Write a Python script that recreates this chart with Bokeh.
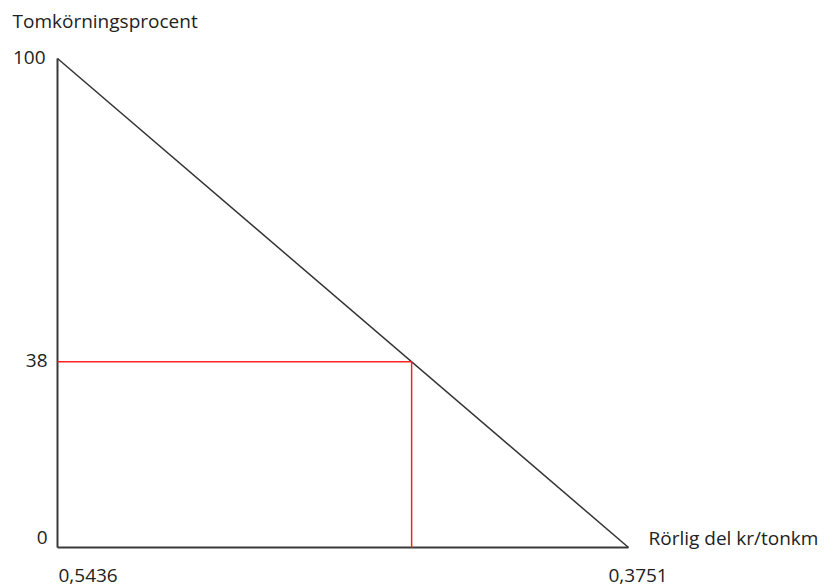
from bokeh.plotting import figure
from bokeh.models import Range1d, Label
from bokeh.embed import file_html
from bokeh.resources import INLINE

# --- data ---
x_start = 0.5436          # kr/tonkm at 100 % empty running
x_end = 0.3751            # kr/tonkm at 0 % empty running
y_values = [100, 0]       # Tomkörningsprocent at the two ends
marker_y = 38             # highlighted empty-running percentage
marker_x = 0.4391         # corresponding kr/tonkm on the line
y_tick_labels = ["100", "38", "0"]
x_tick_labels = ["0,5436", "0,3751"]
y_title = "Tomkörningsprocent"
x_title = "Rörlig del kr/tonkm"

# --- layout (pixels) ---
W, H = 836, 588
PX_LEFT, PX_RIGHT = 57, 628     # where x_start / x_end sit
PX_TOP, PX_BOTTOM = 58, 547     # where 100 / 0 sit

sx = (x_end - x_start) / (PX_RIGHT - PX_LEFT)
sy = (y_values[0] - y_values[1]) / (PX_BOTTOM - PX_TOP)
xr = Range1d(x_start - PX_LEFT * sx, x_start + (W - PX_LEFT) * sx)
yr = Range1d(y_values[1] - (H - PX_BOTTOM) * sy, y_values[0] + PX_TOP * sy)

FONT = "Open Sans"
FS = "19px"
TXT = "#222222"

p = figure(
    width=W, height=H, x_range=xr, y_range=yr,
    output_backend="svg", toolbar_location=None,
    x_axis_location=None, y_axis_location=None, min_border=0,
)
p.grid.visible = False
p.outline_line_color = None
p.background_fill_color = "white"
p.border_fill_color = "white"

# axis lines
p.segment(x0=[x_start, x_start], y0=[y_values[1], y_values[1]],
          x1=[x_start, x_end], y1=[y_values[0], y_values[1]],
          line_color="#3a3a3a", line_width=2)
# diagonal
p.line(x=[x_start, x_end], y=y_values, line_color="#333333", line_width=1.5)
# red guide lines
p.segment(x0=[x_start, marker_x], y0=[marker_y, y_values[1]],
          x1=[marker_x, marker_x], y1=[marker_y, marker_y],
          line_color="#ff2020", line_width=1.5)

def lab(x, y, text, xo, yo, align, baseline="middle"):
    p.add_layout(Label(x=x, y=y, x_units="data", y_units="data", text=text,
                       x_offset=xo, y_offset=yo, text_align=align,
                       text_baseline=baseline, text_font=FONT,
                       text_font_size=FS, text_color=TXT))

lab(x_start, y_values[0], y_title, -45, 38, "left")
lab(x_start, y_values[0], y_tick_labels[0], -12, 1, "right")
lab(x_start, marker_y, y_tick_labels[1], -10, 1, "right")
lab(x_start, y_values[1], y_tick_labels[2], -10, 10, "right")
lab(x_start, y_values[1], x_tick_labels[0], 1, -28, "left")
lab(x_end, y_values[1], x_tick_labels[1], -20, -28, "left")
lab(x_end, y_values[1], x_title, 20, 10, "left")

open("out.html", "w").write(file_html(p, INLINE))
